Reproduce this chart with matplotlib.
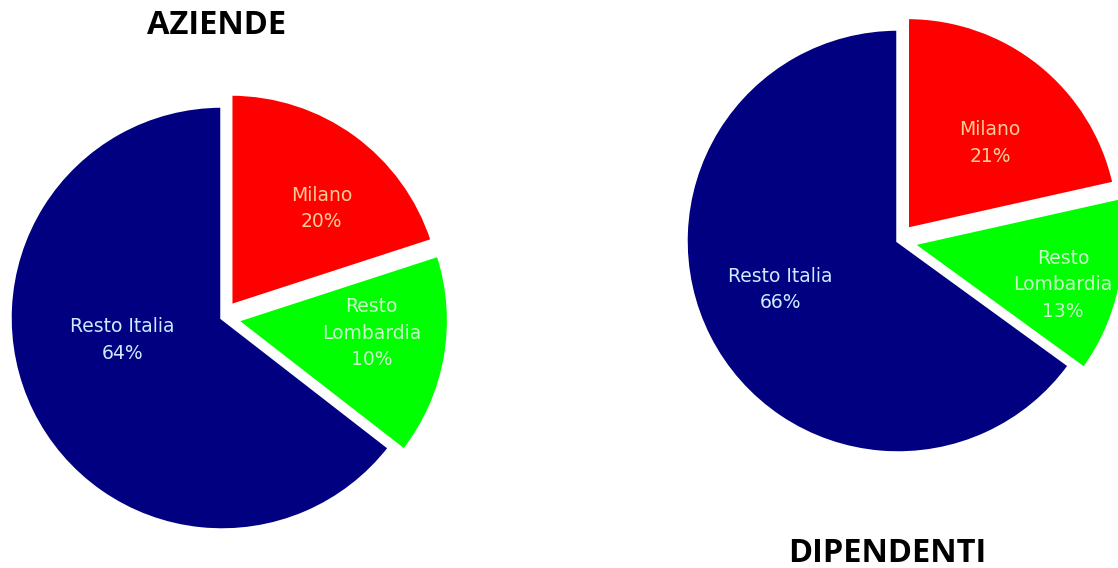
import numpy as np
import matplotlib
matplotlib.use('Agg')
import matplotlib.pyplot as plt

# Data
categories = ['Milano', 'Resto\nLombardia', 'Resto Italia']
aziende_sizes = [20, 15.5, 64.5]
aziende_labels = ['20%', '10%', '64%']
dipendenti_sizes = [21.5, 13.5, 65]
dipendenti_labels = ['21%', '13%', '66%']

colors = ['#FF0000', '#00FF00', '#000080']
text_colors = ['#FFCC99', '#CCFFCC', '#CCECFF']


def draw_pie(ax, sizes, pcts, center, radius, label_pos):
    """Draw one exploded pie with labels inside the wedges.

    label_pos holds (distance as fraction of radius, clockwise shift in
    degrees from the wedge middle) for each label.
    """
    # explode is in data units here (pixels), not in fractions of the radius
    expl = [0.07 * radius, 0.07 * radius, 0]
    wedges, _ = ax.pie(sizes, colors=colors, startangle=90, counterclock=False,
                       explode=expl, center=center, radius=radius,
                       wedgeprops=dict(edgecolor='white', linewidth=2.5))
    for w, cat, pct, tc, (d, shift) in zip(wedges, categories, pcts,
                                          text_colors, label_pos):
        ang = np.deg2rad((w.theta1 + w.theta2) / 2 - shift)
        cx, cy = w.center
        x = cx + d * w.r * np.cos(ang)
        y = cy + d * w.r * np.sin(ang)
        ax.text(x, y, '{}\n{}'.format(cat, pct), ha='center', va='center',
                color=tc, fontsize=13.5, linespacing=1.5, family='DejaVu Sans')


fig = plt.figure(figsize=(11.18, 5.68), dpi=100)
ax = fig.add_axes([0, 0, 1, 1])

draw_pie(ax, aziende_sizes, aziende_labels, (222, 250), 212,
         [(0.63, 7), (0.64, -4.5), (0.48, 13.5)])
draw_pie(ax, dipendenti_sizes, dipendenti_labels, (898, 327), 212,
         [(0.565, 5), (0.735, 3.5), (0.6, 4.5)])

ax.text(217, 542, 'AZIENDE', ha='center', va='center', fontsize=23.5,
        fontweight='bold', family='Open Sans')
ax.text(887, 15, 'DIPENDENTI', ha='center', va='center', fontsize=23.5,
        fontweight='bold', family='Open Sans')

ax.set_xlim(0, 1118)
ax.set_ylim(0, 568)
ax.set_aspect('auto')
ax.axis('off')

fig.savefig('out.png', dpi=100)
